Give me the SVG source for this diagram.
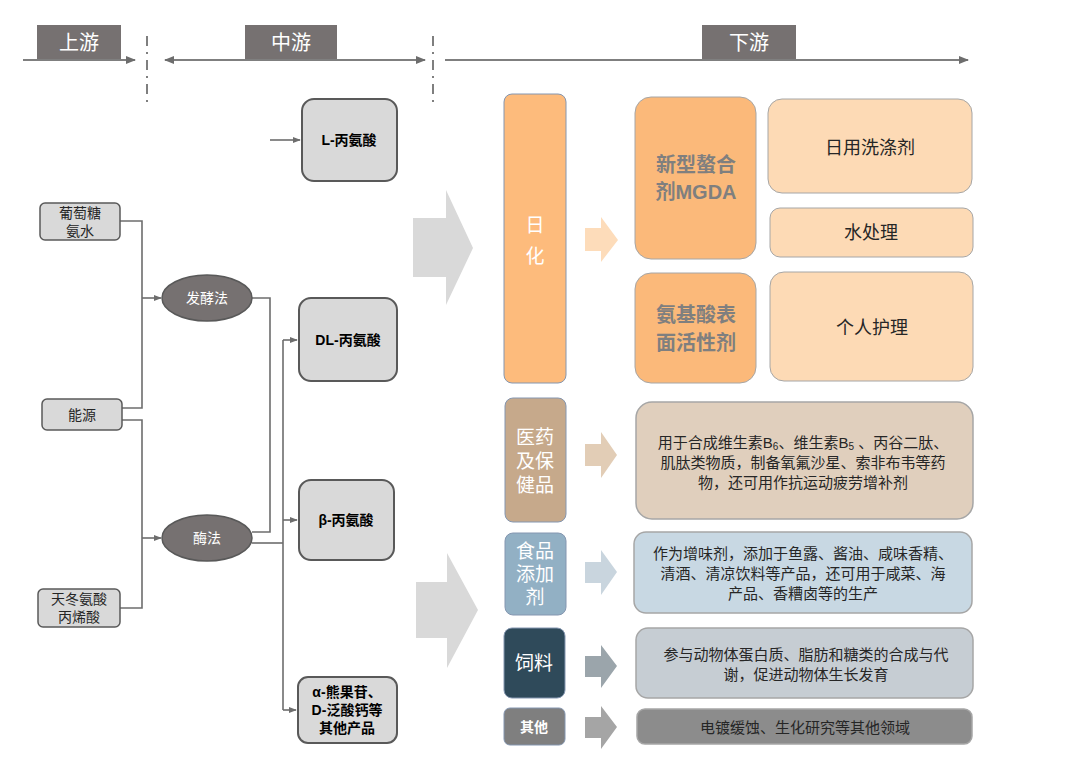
<svg xmlns="http://www.w3.org/2000/svg" width="1080" height="780" viewBox="0 0 1080 780">
<defs>
<marker id="ah" viewBox="0 0 10 10" refX="9" refY="5" markerWidth="5" markerHeight="5" orient="auto-start-reverse"><path d="M0,1 L10,5 L0,9 z" fill="#6d6d6d"/></marker>
<style>
text{font-family:"Liberation Sans","Noto Sans CJK SC",sans-serif;text-anchor:middle;dominant-baseline:central}
.hdr{fill:#767171}
.ht{fill:#fff;font-size:20px}
.axis{stroke:#7f7f7f;stroke-width:2;fill:none}
.dot{stroke:#7f7f7f;stroke-width:2;stroke-dasharray:10,6,2,6;fill:none}
.src{fill:#d9d9d9;stroke:#595959;stroke-width:1.5}
.mid{fill:#d9d9d9;stroke:#595959;stroke-width:2}
.st{font-size:14px;fill:#262626}
.mt{font-size:14px;fill:#000;font-weight:bold}
.ell{fill:#767171;stroke:#595959;stroke-width:1.5}
.et{font-size:14px;fill:#fff}
.con{stroke:#6d6d6d;stroke-width:1.6;fill:none}
.cat{stroke:#8496b0;stroke-width:1}
.ct{fill:#fff;font-size:19px}
.d{stroke:#a6a6a6;stroke-width:1.5}
.dt{font-size:15px;fill:#262626}
</style>
</defs>
<g id="headers">
<rect class="hdr" x="37" y="25" width="84" height="35"/><text class="ht" x="79" y="43">上游</text>
<rect class="hdr" x="245" y="25" width="92" height="35"/><text class="ht" x="291" y="43">中游</text>
<rect class="hdr" x="702" y="25" width="94" height="35"/><text class="ht" x="749" y="43">下游</text>
<path class="axis" d="M23,60 H135" marker-end="url(#ah)"/>
<path class="axis" d="M165,60 H425" marker-start="url(#ah)" marker-end="url(#ah)"/>
<path class="axis" d="M445,60 H968" marker-end="url(#ah)"/>
<path class="dot" d="M147,36 V106"/>
<path class="dot" d="M433,36 V106"/>
</g>
<g id="connectors">
<path class="con" d="M120,221 H142 V408 H122"/>
<path class="con" d="M142,298 H161" marker-end="url(#ah)"/>
<path class="con" d="M122,420 H142 V608 H120"/>
<path class="con" d="M142,538 H161" marker-end="url(#ah)"/>
<path class="con" d="M252,298 H270 V532 H252"/>
<path class="con" d="M270,140 H300" marker-end="url(#ah)"/>
<path class="con" d="M252,543 H283"/>
<path class="con" d="M283,340 V710"/>
<path class="con" d="M283,340 H297" marker-end="url(#ah)"/>
<path class="con" d="M283,520 H297" marker-end="url(#ah)"/>
<path class="con" d="M283,710 H296" marker-end="url(#ah)"/>
</g>
<g id="n-glucose"><rect class="src" x="40" y="203" width="80" height="37" rx="5"/><text class="st" x="80" y="213">葡萄糖</text><text class="st" x="80" y="231">氨水</text></g>
<g id="n-energy"><rect class="src" x="42" y="399" width="80" height="31" rx="5"/><text class="st" x="82" y="415">能源</text></g>
<g id="n-asp"><rect class="src" x="38" y="589" width="82" height="38" rx="5"/><text class="st" x="79" y="599">天冬氨酸</text><text class="st" x="79" y="617">丙烯酸</text></g>
<g id="n-ferm"><ellipse class="ell" cx="207" cy="298" rx="45" ry="23"/><text class="et" x="207" y="298">发酵法</text></g>
<g id="n-enz"><ellipse class="ell" cx="207" cy="538" rx="45" ry="23"/><text class="et" x="207" y="538">酶法</text></g>
<g id="n-L"><rect class="mid" x="302" y="99" width="95" height="82" rx="12"/><text class="mt" x="349" y="140">L-丙氨酸</text></g>
<g id="n-DL"><rect class="mid" x="299" y="298" width="98" height="83" rx="12"/><text class="mt" x="348" y="340">DL-丙氨酸</text></g>
<g id="n-beta"><rect class="mid" x="299" y="480" width="95" height="80" rx="12"/><text class="mt" x="346" y="520">β-丙氨酸</text></g>
<g id="n-alpha"><rect class="mid" x="298" y="677" width="99" height="66" rx="10"/><text class="mt" x="347" y="692">α-熊果苷、</text><text class="mt" x="347" y="710">D-泛酸钙等</text><text class="mt" x="347" y="728">其他产品</text></g>
<g id="bigarrows">
<path d="M413,218 H446 V190 L473,248 L446,305 V277 H413 Z" fill="#d9d9d9"/>
<path d="M416,582 H447 V553 L478,610 L447,668 V638 H416 Z" fill="#d9d9d9"/>
</g>
<g id="n-rihua"><rect class="cat" x="504" y="94" width="62" height="289" rx="8" fill="#fdbb7c"/><text class="ct" x="535" y="225" font-size="26">日</text><text class="ct" x="535" y="256" font-size="26">化</text></g>
<path d="M585,228 H601 V217 L618,240 L601,262 V251 H585 Z" fill="#fddcba"/>
<g id="n-mgda"><rect x="635" y="97" width="121" height="162" rx="16" fill="#fbb97a" stroke="#a6a6a6"/><text x="696" y="165" font-size="20" fill="#7f7f7f" font-weight="bold">新型螯合</text><text x="696" y="192" font-size="20" fill="#7f7f7f" font-weight="bold">剂MGDA</text></g>
<g id="n-aas"><rect x="635" y="273" width="121" height="110" rx="16" fill="#fbb97a" stroke="#a6a6a6"/><text x="696" y="315" font-size="20" fill="#7f7f7f" font-weight="bold">氨基酸表</text><text x="696" y="343" font-size="20" fill="#7f7f7f" font-weight="bold">面活性剂</text></g>
<g id="n-det"><rect x="768" y="99" width="204" height="94" rx="14" fill="#fddab5" stroke="#a6a6a6"/><text x="870" y="148" font-size="18" fill="#262626">日用洗涤剂</text></g>
<g id="n-water"><rect x="770" y="208" width="203" height="49" rx="10" fill="#fddab5" stroke="#a6a6a6"/><text x="871" y="233" font-size="18" fill="#262626">水处理</text></g>
<g id="n-care"><rect x="770" y="272" width="203" height="109" rx="14" fill="#fddab5" stroke="#a6a6a6"/><text x="872" y="328" font-size="18" fill="#262626">个人护理</text></g>
<g id="n-med"><rect class="cat" x="505" y="398" width="61" height="124" rx="8" fill="#c6a98b"/><text class="ct" x="535" y="437">医药</text><text class="ct" x="535" y="461">及保</text><text class="ct" x="535" y="485">健品</text></g>
<path d="M585,444 H601 V432 L617,455 L601,478 V466 H585 Z" fill="#e2cdb6"/>
<g id="n-med-d"><rect class="d" x="636" y="402" width="337" height="117" rx="16" fill="#e0cfbd"/>
<text class="dt" x="803" y="442">用于合成维生素B<tspan font-size="10" dy="4">6</tspan><tspan dy="-4">、维生素B</tspan><tspan font-size="10" dy="4">5</tspan><tspan dy="-4"> 、丙谷二肽、</tspan></text>
<text class="dt" x="803" y="462">肌肽类物质，制备氧氟沙星、索非布韦等药</text>
<text class="dt" x="803" y="482">物，还可用作抗运动疲劳增补剂</text></g>
<g id="n-food"><rect class="cat" x="505" y="533" width="61" height="82" rx="8" fill="#92b0c4"/><text class="ct" x="535" y="551">食品</text><text class="ct" x="535" y="574">添加</text><text class="ct" x="535" y="597">剂</text></g>
<path d="M585,562 H601 V550 L617,572 L601,595 V583 H585 Z" fill="#c9d5de"/>
<g id="n-food-d"><rect class="d" x="634" y="532" width="338" height="81" rx="12" fill="#c8d8e3"/>
<text class="dt" x="803" y="553">作为增味剂，添加于鱼露、酱油、咸味香精、</text>
<text class="dt" x="803" y="573">清酒、清凉饮料等产品，还可用于咸菜、海</text>
<text class="dt" x="803" y="593">产品、香糟卤等的生产</text></g>
<g id="n-feed"><rect class="cat" x="504" y="628" width="61" height="70" rx="8" fill="#2f4a5a"/><text class="ct" x="534" y="663">饲料</text></g>
<path d="M585,656 H601 V645 L617,666 L601,688 V677 H585 Z" fill="#9ba5ab"/>
<g id="n-feed-d"><rect class="d" x="636" y="628" width="337" height="70" rx="12" fill="#c6cdd3"/>
<text class="dt" x="806" y="654">参与动物体蛋白质、脂肪和糖类的合成与代</text>
<text class="dt" x="806" y="674">谢，促进动物体生长发育</text></g>
<g id="n-other"><rect class="cat" x="504" y="708" width="61" height="37" rx="6" fill="#7f7f7f"/><text x="534" y="727" font-size="14" fill="#fff" font-weight="bold">其他</text></g>
<path d="M585,717 H601 V706 L617,727 L601,749 V738 H585 Z" fill="#a5a5a5"/>
<g id="n-other-d"><rect class="d" x="637" y="709" width="335" height="35" rx="8" fill="#8c8c8c" stroke="#7f7f7f"/><text class="dt" x="805" y="727">电镀缓蚀、生化研究等其他领域</text></g>
</svg>
